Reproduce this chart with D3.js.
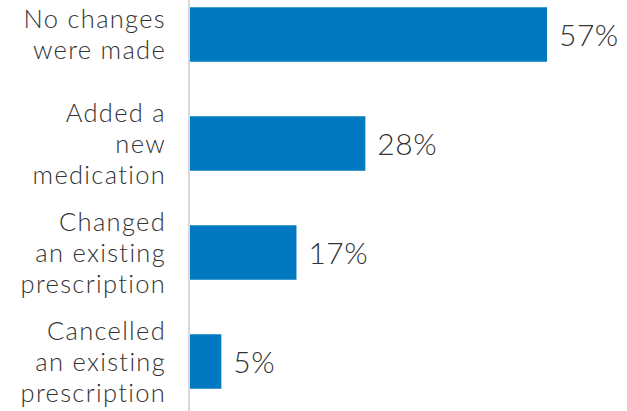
<!DOCTYPE html>
<html>
<head>
<meta charset="utf-8">
<script src="https://cdn.jsdelivr.net/npm/d3@7"></script>
<style>
  html, body { margin: 0; padding: 0; background: #fff; }
  svg { display: block; }
  text { font-family: Lato, "Open Sans", sans-serif; font-weight: 300; fill: #333; }
</style>
</head>
<body>
<svg id="chart" width="627" height="411"></svg>
<script>
// Survey responses: what happened to the prescription
const categories = [
  ["No changes", "were made"],
  ["Added a", "new", "medication"],
  ["Changed", "an existing", "prescription"],
  ["Cancelled", "an existing", "prescription"]
];
const values = [57, 28, 17, 5];
const valueLabels = ["57%", "28%", "17%", "5%"];

const W = 627, H = 411;
const svg = d3.select("#chart");

const keys = categories.map((c, i) => i);
const y = d3.scaleBand()
  .domain(keys)
  .range([-20, 416])
  .paddingInner(0.5)
  .paddingOuter(0.25);

const x = d3.scaleLinear()
  .domain([0, d3.max(values)])
  .range([190, 547]);

// bars
svg.append("g").selectAll("rect")
  .data(values)
  .join("rect")
  .attr("x", x(0))
  .attr("y", (d, i) => y(i))
  .attr("width", d => x(d) - x(0))
  .attr("height", y.bandwidth())
  .attr("fill", "#0079C1");

// vertical baseline
svg.append("line")
  .attr("x1", x(0) - 1).attr("x2", x(0) - 1)
  .attr("y1", 0).attr("y2", H)
  .attr("stroke", "#d9d9d9")
  .attr("stroke-width", 2);

// category labels, one tspan per line
const lineH = 31;
const labels = svg.append("g").selectAll("text")
  .data(categories)
  .join("text")
  .attr("text-anchor", "end")
  .attr("font-size", 25.5)
  .attr("letter-spacing", 1.3);
labels.each(function (lines, i) {
  const cy = y(i) + y.bandwidth() / 2;
  d3.select(this).selectAll("tspan")
    .data(lines)
    .join("tspan")
    .attr("x", 166)
    .attr("y", (l, j) => cy + (j - (lines.length - 1) / 2) * lineH)
    .attr("dy", "0.36em")
    .text(l => l);
});

// value labels
svg.append("g").selectAll("text")
  .data(values)
  .join("text")
  .attr("x", d => x(d) + 12)
  .attr("y", (d, i) => y(i) + y.bandwidth() / 2)
  .attr("dy", "0.38em")
  .attr("font-size", 30)
  .attr("letter-spacing", 0.5)
  .text((d, i) => valueLabels[i]);
</script>
</body>
</html>
